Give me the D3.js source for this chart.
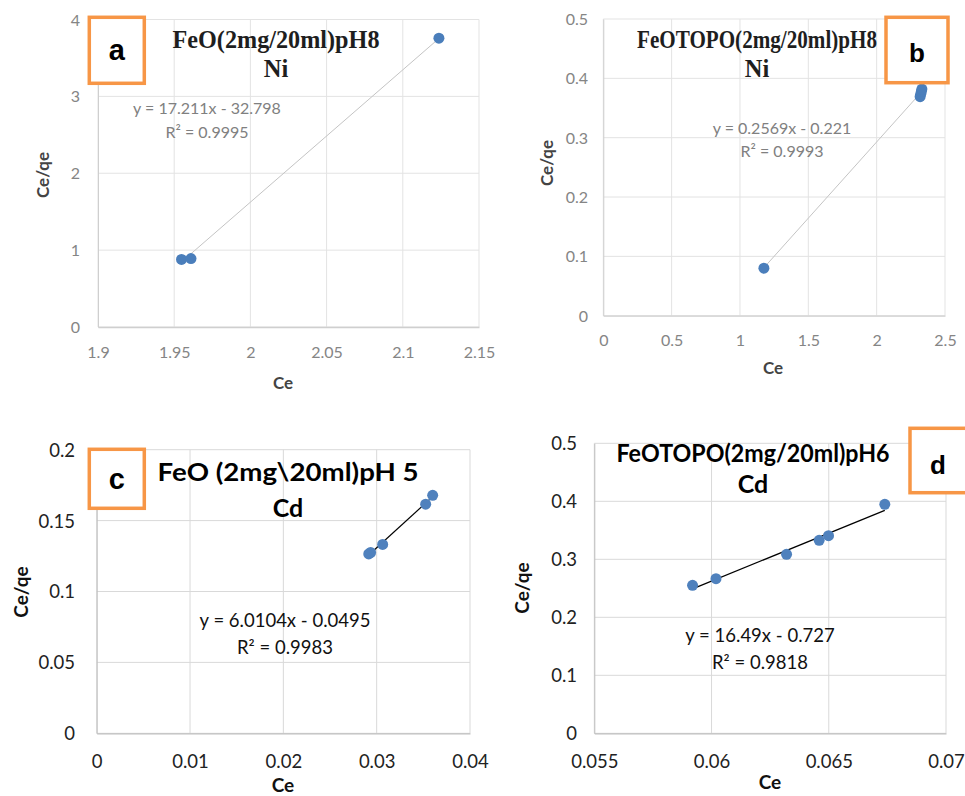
<!DOCTYPE html>
<html><head><meta charset="utf-8">
<script src="https://cdn.jsdelivr.net/npm/d3@7"></script>
<style>body{margin:0;background:#fff} svg{display:block}</style>
</head><body>
<script>
// ---------- DATA ----------
// Panel a : FeO(2mg/20ml)pH8 Ni
const aTitle = ["FeO(2mg/20ml)pH8", "Ni"];
const aCe   = [1.9548, 1.9610, 2.1237];
const aCeqe = [0.879, 0.890, 3.757];
const aFit  = [17.211, -32.798];
const aEq   = ["y = 17.211x - 32.798", "R² = 0.9995"];
const aXTicks = [1.9, 1.95, 2, 2.05, 2.1, 2.15];
const aYTicks = [0, 1, 2, 3, 4];

// Panel b : FeOTOPO(2mg/20ml)pH8 Ni
const bTitle = ["FeOTOPO(2mg/20ml)pH8", "Ni"];
const bCe   = [1.175, 2.318, 2.322, 2.327, 2.331];
const bCeqe = [0.080, 0.369, 0.373, 0.378, 0.382];
const bFit  = [0.2569, -0.221];
const bEq   = ["y = 0.2569x - 0.221", "R² = 0.9993"];
const bXTicks = [0, 0.5, 1, 1.5, 2, 2.5];
const bYTicks = [0, 0.1, 0.2, 0.3, 0.4, 0.5];

// Panel c : FeO (2mg\20ml)pH 5 Cd
const cTitle = ["FeO (2mg\\20ml)pH 5", "Cd"];
const cCe   = [0.02915, 0.02935, 0.03064, 0.03525, 0.03600];
const cCeqe = [0.1265, 0.1275, 0.1332, 0.1616, 0.1678];
const cFit  = [6.0104, -0.0495];
const cEq   = ["y = 6.0104x - 0.0495", "R² = 0.9983"];
const cXTicks = [0, 0.01, 0.02, 0.03, 0.04];
const cYTicks = [0, 0.05, 0.1, 0.15, 0.2];

// Panel d : FeOTOPO(2mg/20ml)pH6 Cd
const dTitle = ["FeOTOPO(2mg/20ml)pH6", "Cd"];
const dCe   = [0.05919, 0.06019, 0.06320, 0.06459, 0.06499, 0.06739];
const dCeqe = [0.2552, 0.2666, 0.3086, 0.3328, 0.3407, 0.3948];
const dFit  = [16.49, -0.727];
const dEq   = ["y = 16.49x - 0.727", "R² = 0.9818"];
const dXTicks = [0.055, 0.06, 0.065, 0.07];
const dYTicks = [0, 0.1, 0.2, 0.3, 0.4, 0.5];

const xLabel = "Ce";
const yLabel = "Ce/qe";
const panelLetters = ["a", "b", "c", "d"];

// ---------- LAYOUT ----------
const W = 965, H = 796;
const svg = d3.select("body").append("svg").attr("width", W).attr("height", H)
  .style("background", "#fff");

const topStyle = {
  grid: "#e3e3e3", axis: "#cfcfcf", tickFont: "Lato", tickSize: 16, tickColor: "#858585",
  labFont: "Lato", labSize: 17, labColor: "#444",
  titleFont: "'Liberation Serif','Times New Roman',serif", titleSize: 24.5, titleColor: "#1e1e1e",
  eqFont: "Lato", eqSize: 16, eqColor: "#808080",
  trend: "#c4c4c4", trendW: 1, r: 5.5, marker: "#4a7ebb"
};
const botStyle = {
  grid: "#d9d9d9", axis: "#bfbfbf", tickFont: "Lato", tickSize: 18.5, tickColor: "#222",
  labFont: "Lato", labSize: 19, labColor: "#111",
  titleFont: "Lato", titleSize: 25, titleColor: "#000",
  eqFont: "Lato", eqSize: 18.5, eqColor: "#111",
  trend: "#000", trendW: 1.2, r: 5.5, marker: "#4f81bd"
};

const panels = [
  { xs: aCe, ys: aCeqe, fit: aFit, eq: aEq, title: aTitle, xt: aXTicks, yt: aYTicks,
    xd: [1.9, 2.15], yd: [0, 4], L: 98, R: 479, T: 19.5, B: 327, st: topStyle, fmt: d3.format("~g"),
    titleX: 276, titleY: [47.7, 77.3], titleLen: 207, eqX: 207, eqY: [113.5, 138],
    yLabR: 80, xLabY: 358, xTitle: [283, 389], yTitle: [43, 175],
    box: [89.3, 17.3, 55, 66], letterY: 60, letterSize: 29 },
  { xs: bCe, ys: bCeqe, fit: bFit, eq: bEq, title: bTitle, xt: bXTicks, yt: bYTicks,
    xd: [0, 2.5], yd: [0, 0.5], L: 603.3, R: 945, T: 19, B: 315.7, st: topStyle, fmt: d3.format("~g"),
    titleX: 757, titleY: [47.7, 77.3], titleLen: 240, eqX: 782, eqY: [133.5, 157],
    yLabR: 588, xLabY: 346, xTitle: [773, 374], yTitle: [547, 163],
    box: [886, 17.3, 62, 65.4], letterY: 61.5, letterSize: 26 },
  { xs: cCe, ys: cCeqe, fit: cFit, eq: cEq, title: cTitle, xt: cXTicks, yt: cYTicks,
    xd: [0, 0.04], yd: [0, 0.2], L: 96.7, R: 470, T: 449.7, B: 733.3, st: botStyle, fmt: d3.format("~g"),
    titleX: 288, titleY: [481, 517], titleLen: 261, eqX: 285, eqY: [627, 654],
    yLabR: 75, xLabY: 768, xTitle: [283, 792], yTitle: [21, 592],
    box: [89.3, 449.3, 55, 59], letterY: 489, letterSize: 29 },
  { xs: dCe, ys: dCeqe, fit: dFit, eq: dEq, title: dTitle, xt: dXTicks, yt: dYTicks,
    xd: [0.055, 0.07], yd: [0, 0.5], L: 594.3, R: 946, T: 443.3, B: 733.3, st: botStyle, fmt: d3.format("~g"),
    titleX: 753, titleY: [462, 493], titleLen: 273, eqX: 760, eqY: [642, 668.5],
    yLabR: 577, xLabY: 768, xTitle: [770, 789], yTitle: [522, 588],
    box: [910, 428.3, 70, 64.4], letterY: 473.5, letterSize: 26 }
];

panels.forEach((p, i) => {
  const st = p.st;
  const g = svg.append("g");
  const x = d3.scaleLinear().domain(p.xd).range([p.L, p.R]);
  const y = d3.scaleLinear().domain(p.yd).range([p.B, p.T]);

  // gridlines
  g.selectAll(".gx").data(p.xt).enter().append("line")
    .attr("x1", d => x(d)).attr("x2", d => x(d)).attr("y1", p.T).attr("y2", p.B)
    .attr("stroke", st.grid).attr("stroke-width", 1);
  g.selectAll(".gy").data(p.yt).enter().append("line")
    .attr("y1", d => y(d)).attr("y2", d => y(d)).attr("x1", p.L).attr("x2", p.R)
    .attr("stroke", st.grid).attr("stroke-width", 1);

  // axes with d3 axis generators (no tick marks, labels styled)
  const xAxis = d3.axisBottom(x).tickValues(p.xt).tickFormat(p.fmt).tickSize(0).tickPadding(0);
  const xg = g.append("g").attr("transform", `translate(0,${p.B})`).call(xAxis);
  xg.select(".domain").attr("stroke", st.axis).attr("stroke-width", 1.3);
  xg.selectAll("text").attr("y", p.xLabY - p.B).attr("dy", 0)
    .attr("font-family", st.tickFont).attr("font-size", st.tickSize).attr("fill", st.tickColor);

  const yAxis = d3.axisLeft(y).tickValues(p.yt).tickFormat(p.fmt).tickSize(0).tickPadding(0);
  const yg = g.append("g").attr("transform", `translate(${p.L},0)`).call(yAxis);
  yg.select(".domain").attr("stroke", st.axis).attr("stroke-width", 1);
  yg.selectAll("text").attr("x", p.yLabR - p.L).attr("dy", "0.35em")
    .attr("font-family", st.tickFont).attr("font-size", st.tickSize).attr("fill", st.tickColor);

  // trendline from fit over the data range
  const x0 = d3.min(p.xs), x1 = d3.max(p.xs);
  g.append("line")
    .attr("x1", x(x0)).attr("y1", y(p.fit[0] * x0 + p.fit[1]))
    .attr("x2", x(x1)).attr("y2", y(p.fit[0] * x1 + p.fit[1]))
    .attr("stroke", st.trend).attr("stroke-width", st.trendW);

  // markers
  g.selectAll(".pt").data(p.xs.map((v, k) => [v, p.ys[k]])).enter().append("circle")
    .attr("cx", d => x(d[0])).attr("cy", d => y(d[1])).attr("r", st.r)
    .attr("fill", st.marker);

  // equation
  p.eq.forEach((t, k) => {
    g.append("text").attr("x", p.eqX).attr("y", p.eqY[k]).attr("text-anchor", "middle")
      .attr("font-family", st.eqFont).attr("font-size", st.eqSize).attr("fill", st.eqColor).text(t);
  });

  // title
  p.title.forEach((t, k) => {
    const tt = g.append("text").attr("x", p.titleX).attr("y", p.titleY[k]).attr("text-anchor", "middle")
      .attr("font-family", st.titleFont).attr("font-size", st.titleSize).attr("font-weight", "bold")
      .attr("fill", st.titleColor).text(t);
    if (k === 0) tt.attr("textLength", p.titleLen).attr("lengthAdjust", "spacingAndGlyphs");
  });

  // axis titles
  g.append("text").attr("x", p.xTitle[0]).attr("y", p.xTitle[1]).attr("text-anchor", "middle")
    .attr("font-family", st.labFont).attr("font-size", st.labSize).attr("font-weight", "bold")
    .attr("fill", st.labColor).text(xLabel);
  g.append("text").attr("transform", `translate(${p.yTitle[0]},${p.yTitle[1]}) rotate(-90)`)
    .attr("text-anchor", "middle").attr("dy", "0.35em")
    .attr("font-family", st.labFont).attr("font-size", st.labSize).attr("font-weight", "bold")
    .attr("fill", st.labColor).text(yLabel);

  // orange letter box
  const [bx, by, bw, bh] = p.box;
  g.append("rect").attr("x", bx).attr("y", by).attr("width", bw).attr("height", bh)
    .attr("fill", "#fff").attr("stroke", "#f79646").attr("stroke-width", 3.5);
  g.append("text").attr("x", i === 3 ? 938 : bx + bw / 2).attr("y", p.letterY).attr("text-anchor", "middle")
    .attr("font-family", "'Liberation Sans',Arial,sans-serif").attr("font-weight", "bold")
    .attr("font-size", p.letterSize).attr("fill", "#000").text(panelLetters[i]);
});
</script>
</body></html>
